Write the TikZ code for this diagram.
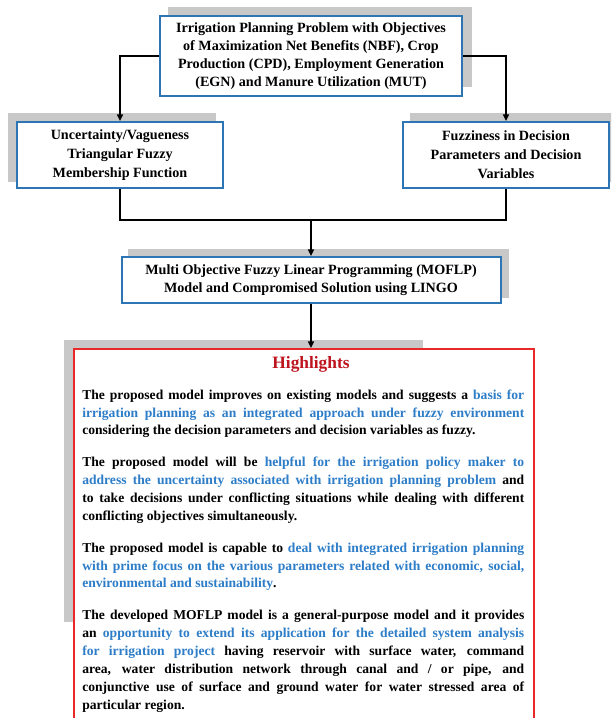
\documentclass[tikz,border=0pt]{standalone}
\usepackage{fontspec}
\setmainfont{Liberation Serif}
\usetikzlibrary{arrows.meta}
\definecolor{boxblue}{RGB}{46,117,182}
\definecolor{txtblue}{RGB}{45,125,200}
\definecolor{hlred}{RGB}{235,40,40}
\definecolor{titlered}{RGB}{190,20,30}
\definecolor{shd}{RGB}{200,200,200}
\newcommand\jl[1]{\par\noindent\hbox to\hsize{#1}\par}
\newcommand\lastl[1]{\par\noindent#1\par}
\newcommand\bl[1]{\textcolor{txtblue}{#1}}
\begin{document}
\begin{tikzpicture}[x=0.75pt,y=-0.75pt,
  bx/.style={draw=boxblue,line width=1.5pt,fill=white,align=center,inner sep=0pt,
    font=\fontsize{10.6}{13.5}\selectfont\bfseries},
  conn/.style={line width=1.1pt,black},
  arr/.style={conn,-{Triangle[length=5pt,width=4.5pt]}}]
\useasboundingbox (0,0) rectangle (611,718);
\clip (0,0) rectangle (611,718);
\fill[white] (0,0) rectangle (611,718);
% shadows
\fill[shd] (168,7) rectangle (472,87);
\fill[shd] (8,113) rectangle (216,182);
\fill[shd] (410,113) rectangle (620,182);
\fill[shd] (128,249) rectangle (509,298);
\fill[shd] (64,340) rectangle (423,622);
% boxes
\node[bx,minimum width=226.5pt,minimum height=60pt] (top) at (311,56)
  {Irrigation Planning Problem with Objectives\\ of Maximization Net Benefits (NBF), Crop\\ Production (CPD), Employment Generation\\ (EGN) and Manure Utilization (MUT)};
\node[bx,minimum width=154.5pt,minimum height=49.5pt,font=\fontsize{10.6}{14.25}\selectfont\bfseries] (left) at (120,155)
  {Uncertainty/Vagueness\\ Triangular Fuzzy\\ Membership Function};
\node[bx,minimum width=154.5pt,minimum height=49.5pt,font=\fontsize{10.6}{14.25}\selectfont\bfseries] (right) at (506,155)
  {Fuzziness in Decision\\ Parameters and Decision\\ Variables};
\node[bx,minimum width=284.25pt,minimum height=34.5pt] (moflp) at (311,280)
  {Multi Objective Fuzzy Linear Programming (MOFLP)\\ Model and Compromised Solution using LINGO};
\node[draw=hlred,line width=1.4pt,fill=white,minimum width=345pt,minimum height=300pt,anchor=north west,inner sep=0pt] (hlbox) at (73,348) {};
\node[anchor=base,text=titlered,font=\fontsize{13}{15}\selectfont\bfseries,inner sep=0pt] (hltitle) at (311,368) {Highlights};
\node[anchor=north west,inner sep=0pt,text width=331.5pt,align=justify,
  font=\fontsize{10.2}{13.4}\selectfont\bfseries] (hltext) at (82,381) {%
\spaceskip=0pt \xspaceskip=0pt
\setlength{\parskip}{0pt}\setlength{\parindent}{0pt}%
\jl{The proposed model improves on existing models and suggests a \bl{basis for}}
\jl{\bl{irrigation planning as an integrated approach under fuzzy environment}}
\lastl{considering the decision parameters and decision variables as fuzzy.}
\vspace{10.5pt}
\jl{The proposed model will be \bl{helpful for the irrigation policy maker to}}
\jl{\bl{address the uncertainty associated with irrigation planning problem} and}
\jl{to take decisions under conflicting situations while dealing with different}
\lastl{conflicting objectives simultaneously.}
\vspace{10.5pt}
\jl{The proposed model is capable to \bl{deal with integrated irrigation planning}}
\jl{\bl{with prime focus on the various parameters related with economic, social,}}
\lastl{\bl{environmental and sustainability}.}
\vspace{10.5pt}
\jl{The developed MOFLP model is a general-purpose model and it provides}
\jl{an \bl{opportunity to extend its application for the detailed system analysis}}
\jl{\bl{for irrigation project} having reservoir with surface water, command}
\jl{area, water distribution network through canal and / or pipe, and}
\jl{conjunctive use of surface and ground water for water stressed area of}
\lastl{particular region.}
};
% connectors
\coordinate (j) at (311,220);
\draw[arr] (top.west) -| (left.north);
\draw[arr] (top.east) -| (right.north);
\draw[conn] (left.south) |- (j);
\draw[conn] (right.south) |- (j);
\draw[arr] (j) -- (moflp.north);
\draw[arr] (moflp.south) -- (moflp.south |- hlbox.north);
\end{tikzpicture}
\end{document}
